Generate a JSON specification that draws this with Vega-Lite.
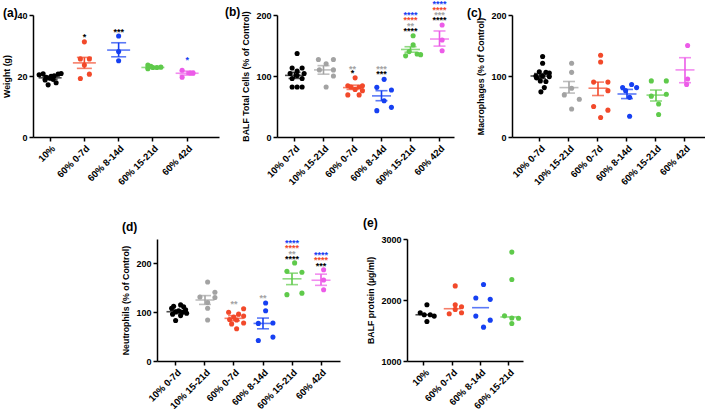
{
  "$schema": "https://vega.github.io/schema/vega-lite/v6.json",
  "padding": {"left": 2, "top": 0, "right": 0, "bottom": 0},
  "background": "white",
  "config": {
    "view": {"stroke": null},
    "font": "Liberation Sans",
    "axis": {"domainColor": "#000", "domainWidth": 1.5, "tickColor": "#000", "tickWidth": 1.5, "tickSize": 4, "labelColor": "#000", "labelFont": "Liberation Sans", "labelFontWeight": "bold", "labelFontSize": 9, "labelPadding": 2, "titleFont": "Liberation Sans", "titleFontWeight": "bold", "titleFontSize": 8.8, "titleColor": "#000", "titlePadding": 5, "grid": false},
    "axisX": {"labelAngle": -45, "labelFontSize": 9.5, "labelPadding": 2},
    "title": {"font": "Liberation Sans", "fontSize": 12, "fontWeight": "bold", "color": "#000", "anchor": "start", "frame": "bounds", "offset": 2}
  },
  "datasets": {
    "a": [
      {"g": "10%", "j": -11, "v": 20.4}, {"g": "10%", "j": -7, "v": 20.7}, {"g": "10%", "j": -4, "v": 19.6}, {"g": "10%", "j": 0, "v": 19.3}, {"g": "10%", "j": 4, "v": 20.1}, {"g": "10%", "j": 8, "v": 20.6}, {"g": "10%", "j": 11, "v": 20.8}, {"g": "10%", "j": -5, "v": 18.7}, {"g": "10%", "j": 3, "v": 18.9}, {"g": "10%", "j": -2, "v": 17.1}, {"g": "10%", "j": 6, "v": 17.8}, {"g": "10%", "j": 1, "v": 19.9},
      {"g": "60% 0-7d", "j": 0, "v": 31.2}, {"g": "60% 0-7d", "j": -4, "v": 25.6}, {"g": "60% 0-7d", "j": 5, "v": 25.6}, {"g": "60% 0-7d", "j": 0, "v": 23.6}, {"g": "60% 0-7d", "j": -4, "v": 19.2}, {"g": "60% 0-7d", "j": 5, "v": 20.6},
      {"g": "60% 8-14d", "j": 0, "v": 33.1}, {"g": "60% 8-14d", "j": 0, "v": 28.0}, {"g": "60% 8-14d", "j": 0, "v": 25.0},
      {"g": "60% 15-21d", "j": -5, "v": 23.6}, {"g": "60% 15-21d", "j": -5, "v": 22.4}, {"g": "60% 15-21d", "j": 0, "v": 22.8}, {"g": "60% 15-21d", "j": 4, "v": 22.8}, {"g": "60% 15-21d", "j": 8, "v": 22.9}, {"g": "60% 15-21d", "j": -2, "v": 23.2},
      {"g": "60% 42d", "j": -5, "v": 21.9}, {"g": "60% 42d", "j": -5, "v": 19.6}, {"g": "60% 42d", "j": 3, "v": 21.0}, {"g": "60% 42d", "j": 6, "v": 21.0}
    ],
    "a_s": [
      {"g": "10%", "m": 19.4, "lo": 18.9, "hi": 19.9},
      {"g": "60% 0-7d", "m": 24.3, "lo": 22.5, "hi": 26.1},
      {"g": "60% 8-14d", "m": 28.5, "lo": 26.3, "hi": 30.9},
      {"g": "60% 15-21d", "m": 22.8, "lo": 22.5, "hi": 23.1},
      {"g": "60% 42d", "m": 20.9, "lo": 20.3, "hi": 21.6}
    ],
    "a_t": [
      {"g": "60% 0-7d", "vs": "10%", "y": 33.6, "s": "*"},
      {"g": "60% 8-14d", "vs": "10%", "y": 35.1, "s": "***"},
      {"g": "60% 42d", "vs": "60% 8-14d", "y": 25.8, "s": "*"}
    ],
    "b": [
      {"g": "10% 0-7d", "j": 0, "v": 137}, {"g": "10% 0-7d", "j": -5, "v": 113}, {"g": "10% 0-7d", "j": 5, "v": 113}, {"g": "10% 0-7d", "j": -7, "v": 104}, {"g": "10% 0-7d", "j": 7, "v": 104}, {"g": "10% 0-7d", "j": 0, "v": 108}, {"g": "10% 0-7d", "j": -5, "v": 96}, {"g": "10% 0-7d", "j": 5, "v": 96}, {"g": "10% 0-7d", "j": 0, "v": 101}, {"g": "10% 0-7d", "j": -5, "v": 82}, {"g": "10% 0-7d", "j": 5, "v": 82}, {"g": "10% 0-7d", "j": 0, "v": 82},
      {"g": "10% 15-21d", "j": -7.7, "v": 127}, {"g": "10% 15-21d", "j": 7.3, "v": 127}, {"g": "10% 15-21d", "j": 0, "v": 120}, {"g": "10% 15-21d", "j": -6.7, "v": 110}, {"g": "10% 15-21d", "j": 7.3, "v": 110}, {"g": "10% 15-21d", "j": 7.3, "v": 100}, {"g": "10% 15-21d", "j": 0, "v": 82},
      {"g": "60% 0-7d", "j": 0, "v": 97}, {"g": "60% 0-7d", "j": -7.3, "v": 84}, {"g": "60% 0-7d", "j": 7.3, "v": 84}, {"g": "60% 0-7d", "j": -4.3, "v": 82}, {"g": "60% 0-7d", "j": 4, "v": 82}, {"g": "60% 0-7d", "j": 0, "v": 78}, {"g": "60% 0-7d", "j": -7.3, "v": 69}, {"g": "60% 0-7d", "j": 4, "v": 69}, {"g": "60% 0-7d", "j": 7.3, "v": 76},
      {"g": "60% 8-14d", "j": 0, "v": 94.5}, {"g": "60% 8-14d", "j": -7.3, "v": 81.4}, {"g": "60% 8-14d", "j": 7.3, "v": 77}, {"g": "60% 8-14d", "j": 0, "v": 59.5}, {"g": "60% 8-14d", "j": -7.3, "v": 43.2}, {"g": "60% 8-14d", "j": 7.3, "v": 48.6},
      {"g": "60% 15-21d", "j": 0, "v": 166}, {"g": "60% 15-21d", "j": 0, "v": 151}, {"g": "60% 15-21d", "j": -4, "v": 140}, {"g": "60% 15-21d", "j": 4, "v": 136}, {"g": "60% 15-21d", "j": -7.5, "v": 133}, {"g": "60% 15-21d", "j": 7.5, "v": 135},
      {"g": "60% 42d", "j": 0, "v": 183.6}, {"g": "60% 42d", "j": 0, "v": 159}, {"g": "60% 42d", "j": 0, "v": 141.5}
    ],
    "b_s": [
      {"g": "10% 0-7d", "m": 101, "lo": 96, "hi": 106},
      {"g": "10% 15-21d", "m": 110, "lo": 103, "hi": 117},
      {"g": "60% 0-7d", "m": 81, "lo": 78, "hi": 85},
      {"g": "60% 8-14d", "m": 67.4, "lo": 59.5, "hi": 75.9},
      {"g": "60% 15-21d", "m": 143.5, "lo": 139, "hi": 148},
      {"g": "60% 42d", "m": 160.6, "lo": 149, "hi": 173.8}
    ],
    "b_t": [
      {"g": "60% 0-7d", "vs": "10% 0-7d", "y": 108, "s": "*"},
      {"g": "60% 0-7d", "vs": "10% 15-21d", "y": 115, "s": "**"},
      {"g": "60% 8-14d", "vs": "10% 0-7d", "y": 106, "s": "***"},
      {"g": "60% 8-14d", "vs": "10% 15-21d", "y": 114, "s": "***"},
      {"g": "60% 15-21d", "vs": "10% 0-7d", "y": 177, "s": "****"},
      {"g": "60% 15-21d", "vs": "10% 15-21d", "y": 186, "s": "**"},
      {"g": "60% 15-21d", "vs": "60% 0-7d", "y": 194.5, "s": "****"},
      {"g": "60% 15-21d", "vs": "60% 8-14d", "y": 204, "s": "****"},
      {"g": "60% 42d", "vs": "10% 0-7d", "y": 194.5, "s": "****"},
      {"g": "60% 42d", "vs": "10% 15-21d", "y": 203, "s": "***"},
      {"g": "60% 42d", "vs": "60% 0-7d", "y": 212, "s": "****"},
      {"g": "60% 42d", "vs": "60% 8-14d", "y": 221, "s": "****"}
    ],
    "c": [
      {"g": "10% 0-7d", "j": 0, "v": 132}, {"g": "10% 0-7d", "j": 0, "v": 121}, {"g": "10% 0-7d", "j": -3.3, "v": 107}, {"g": "10% 0-7d", "j": 3.3, "v": 106}, {"g": "10% 0-7d", "j": 6.7, "v": 105}, {"g": "10% 0-7d", "j": -6.7, "v": 100}, {"g": "10% 0-7d", "j": 0, "v": 100}, {"g": "10% 0-7d", "j": 6.7, "v": 99}, {"g": "10% 0-7d", "j": -6, "v": 97}, {"g": "10% 0-7d", "j": -2.3, "v": 92}, {"g": "10% 0-7d", "j": 3.3, "v": 91}, {"g": "10% 0-7d", "j": 1.7, "v": 81}, {"g": "10% 0-7d", "j": -1.7, "v": 74},
      {"g": "10% 15-21d", "j": 0, "v": 121}, {"g": "10% 15-21d", "j": 0, "v": 106}, {"g": "10% 15-21d", "j": 0, "v": 80}, {"g": "10% 15-21d", "j": -7.3, "v": 69}, {"g": "10% 15-21d", "j": 7.7, "v": 62}, {"g": "10% 15-21d", "j": 0, "v": 46},
      {"g": "60% 0-7d", "j": 0, "v": 134}, {"g": "60% 0-7d", "j": 0, "v": 123}, {"g": "60% 0-7d", "j": -7, "v": 90}, {"g": "60% 0-7d", "j": 7.3, "v": 90}, {"g": "60% 0-7d", "j": 7.3, "v": 76}, {"g": "60% 0-7d", "j": -7, "v": 50}, {"g": "60% 0-7d", "j": 7.3, "v": 44}, {"g": "60% 0-7d", "j": 0, "v": 32},
      {"g": "60% 8-14d", "j": 2, "v": 86}, {"g": "60% 8-14d", "j": -7, "v": 81}, {"g": "60% 8-14d", "j": 7, "v": 81}, {"g": "60% 8-14d", "j": -4, "v": 76}, {"g": "60% 8-14d", "j": 0, "v": 65}, {"g": "60% 8-14d", "j": 0, "v": 34},
      {"g": "60% 15-21d", "j": -7.3, "v": 92}, {"g": "60% 15-21d", "j": 7.7, "v": 92}, {"g": "60% 15-21d", "j": -7.3, "v": 67}, {"g": "60% 15-21d", "j": 7.7, "v": 70}, {"g": "60% 15-21d", "j": 0, "v": 54}, {"g": "60% 15-21d", "j": 0, "v": 37},
      {"g": "60% 42d", "j": 0, "v": 150}, {"g": "60% 42d", "j": 0, "v": 95}, {"g": "60% 42d", "j": -1, "v": 86}
    ],
    "c_s": [
      {"g": "10% 0-7d", "m": 100, "lo": 96, "hi": 104},
      {"g": "10% 15-21d", "m": 81, "lo": 72, "hi": 91},
      {"g": "60% 0-7d", "m": 80, "lo": 68, "hi": 90},
      {"g": "60% 8-14d", "m": 70.5, "lo": 63, "hi": 78},
      {"g": "60% 15-21d", "m": 68.7, "lo": 59, "hi": 77},
      {"g": "60% 42d", "m": 110, "lo": 89, "hi": 130}
    ],
    "d": [
      {"g": "10% 0-7d", "j": 2, "v": 115}, {"g": "10% 0-7d", "j": -5, "v": 112}, {"g": "10% 0-7d", "j": 5, "v": 111}, {"g": "10% 0-7d", "j": -7, "v": 108}, {"g": "10% 0-7d", "j": 7, "v": 105}, {"g": "10% 0-7d", "j": 0, "v": 103}, {"g": "10% 0-7d", "j": -3, "v": 101}, {"g": "10% 0-7d", "j": 4, "v": 100}, {"g": "10% 0-7d", "j": 8, "v": 98}, {"g": "10% 0-7d", "j": -6, "v": 96}, {"g": "10% 0-7d", "j": 2, "v": 93}, {"g": "10% 0-7d", "j": -3, "v": 83},
      {"g": "10% 15-21d", "j": 0, "v": 162}, {"g": "10% 15-21d", "j": 7.3, "v": 141}, {"g": "10% 15-21d", "j": -7.7, "v": 131}, {"g": "10% 15-21d", "j": 7.3, "v": 130}, {"g": "10% 15-21d", "j": 0, "v": 120}, {"g": "10% 15-21d", "j": 0, "v": 108}, {"g": "10% 15-21d", "j": 0, "v": 84},
      {"g": "60% 0-7d", "j": 7, "v": 107}, {"g": "60% 0-7d", "j": -8, "v": 100}, {"g": "60% 0-7d", "j": 2, "v": 96}, {"g": "60% 0-7d", "j": 7, "v": 92}, {"g": "60% 0-7d", "j": -3, "v": 90}, {"g": "60% 0-7d", "j": -7, "v": 85}, {"g": "60% 0-7d", "j": 0, "v": 84}, {"g": "60% 0-7d", "j": 7, "v": 78}, {"g": "60% 0-7d", "j": -5, "v": 76}, {"g": "60% 0-7d", "j": 0, "v": 66},
      {"g": "60% 8-14d", "j": 0, "v": 119}, {"g": "60% 8-14d", "j": 0, "v": 103}, {"g": "60% 8-14d", "j": -7.3, "v": 77}, {"g": "60% 8-14d", "j": 7.3, "v": 78}, {"g": "60% 8-14d", "j": 7.3, "v": 49}, {"g": "60% 8-14d", "j": -7.3, "v": 42},
      {"g": "60% 15-21d", "j": 0, "v": 201}, {"g": "60% 15-21d", "j": -7.7, "v": 184}, {"g": "60% 15-21d", "j": 7.3, "v": 182}, {"g": "60% 15-21d", "j": 7.3, "v": 139}, {"g": "60% 15-21d", "j": -7.7, "v": 136},
      {"g": "60% 42d", "j": 0, "v": 187}, {"g": "60% 42d", "j": 0, "v": 166}, {"g": "60% 42d", "j": 0, "v": 146}
    ],
    "d_s": [
      {"g": "10% 0-7d", "m": 101, "lo": 97, "hi": 104},
      {"g": "10% 15-21d", "m": 125, "lo": 116, "hi": 134},
      {"g": "60% 0-7d", "m": 87.4, "lo": 82.6, "hi": 92.9},
      {"g": "60% 8-14d", "m": 77, "lo": 66, "hi": 88},
      {"g": "60% 15-21d", "m": 168.4, "lo": 156.5, "hi": 180},
      {"g": "60% 42d", "m": 165.5, "lo": 155, "hi": 178}
    ],
    "d_t": [
      {"g": "60% 0-7d", "vs": "10% 15-21d", "y": 121, "s": "**"},
      {"g": "60% 8-14d", "vs": "10% 15-21d", "y": 132.5, "s": "**"},
      {"g": "60% 15-21d", "vs": "10% 0-7d", "y": 213, "s": "****"},
      {"g": "60% 15-21d", "vs": "10% 15-21d", "y": 223, "s": "**"},
      {"g": "60% 15-21d", "vs": "60% 0-7d", "y": 235, "s": "****"},
      {"g": "60% 15-21d", "vs": "60% 8-14d", "y": 246.5, "s": "****"},
      {"g": "60% 42d", "vs": "10% 0-7d", "y": 199, "s": "***"},
      {"g": "60% 42d", "vs": "60% 0-7d", "y": 211, "s": "****"},
      {"g": "60% 42d", "vs": "60% 8-14d", "y": 221, "s": "****"}
    ],
    "e": [
      {"g": "10%", "j": 0, "v": 1923}, {"g": "10%", "j": -6.7, "v": 1791}, {"g": "10%", "j": -2.7, "v": 1758}, {"g": "10%", "j": 3.3, "v": 1758}, {"g": "10%", "j": 7.3, "v": 1736}, {"g": "10%", "j": 0, "v": 1648},
      {"g": "60% 0-7d", "j": 0, "v": 2231}, {"g": "60% 0-7d", "j": 0, "v": 1923}, {"g": "60% 0-7d", "j": -6, "v": 1775}, {"g": "60% 0-7d", "j": 6.3, "v": 1890}, {"g": "60% 0-7d", "j": 0, "v": 1846}, {"g": "60% 0-7d", "j": 6.3, "v": 1791},
      {"g": "60% 8-14d", "j": 0, "v": 2253}, {"g": "60% 8-14d", "j": -7.7, "v": 2033}, {"g": "60% 8-14d", "j": 6.7, "v": 2011}, {"g": "60% 8-14d", "j": -7.7, "v": 1736}, {"g": "60% 8-14d", "j": 6.7, "v": 1670}, {"g": "60% 8-14d", "j": 0, "v": 1555},
      {"g": "60% 15-21d", "j": 0, "v": 2785}, {"g": "60% 15-21d", "j": 0, "v": 2335}, {"g": "60% 15-21d", "j": -7.3, "v": 1740}, {"g": "60% 15-21d", "j": 0, "v": 1705}, {"g": "60% 15-21d", "j": 6.7, "v": 1700}, {"g": "60% 15-21d", "j": 0, "v": 1615}
    ],
    "e_s": [
      {"g": "10%", "m": 1758},
      {"g": "60% 0-7d", "m": 1857},
      {"g": "60% 8-14d", "m": 1874},
      {"g": "60% 15-21d", "m": 1722}
    ]
  },
  "vconcat": [
    {
      "hconcat": [
        {
          "title": {"text": "(a)", "dy": 11},
          "width": 186, "height": 122,
          "encoding": {"x": {"field": "g", "type": "nominal", "title": null, "scale": {"domain": ["10%", "60% 0-7d", "60% 8-14d", "60% 15-21d", "60% 42d"], "paddingInner": 0, "paddingOuter": 0.2153, "align": 0}}},
          "layer": [
            {"data": {"name": "a"}, "mark": {"type": "circle", "size": 26, "opacity": 1}, "encoding": {"y": {"field": "v", "type": "quantitative", "title": "Weight (g)", "scale": {"domain": [0, 40], "nice": false}, "axis": {"values": [0, 10, 20, 30, 40]}}, "xOffset": {"field": "j", "type": "quantitative", "scale": {"domain": [-17.12, 17.12], "nice": false, "zero": false}}, "color": {"field": "g", "type": "nominal", "legend": null, "scale": {"domain": ["10%", "10% 0-7d", "10% 15-21d", "60% 0-7d", "60% 8-14d", "60% 15-21d", "60% 42d"], "range": ["#000000", "#000000", "#a3a3a3", "#f2492a", "#1640f2", "#5fca4b", "#ec5be8"]}}}},
            {"data": {"name": "a_s"}, "mark": {"type": "tick", "thickness": 1.6, "size": 23}, "encoding": {"y": {"field": "m", "type": "quantitative", "title": "Weight (g)", "scale": {"domain": [0, 40], "nice": false}}, "color": {"field": "g", "type": "nominal", "legend": null, "scale": {"domain": ["10%", "10% 0-7d", "10% 15-21d", "60% 0-7d", "60% 8-14d", "60% 15-21d", "60% 42d"], "range": ["#000000", "#000000", "#a3a3a3", "#f2492a", "#1640f2", "#5fca4b", "#ec5be8"]}}}},
            {"data": {"name": "a_s"}, "mark": {"type": "tick", "thickness": 1.6, "size": 15}, "encoding": {"y": {"field": "lo", "type": "quantitative", "title": "Weight (g)", "scale": {"domain": [0, 40], "nice": false}}, "color": {"field": "g", "type": "nominal", "legend": null, "scale": {"domain": ["10%", "10% 0-7d", "10% 15-21d", "60% 0-7d", "60% 8-14d", "60% 15-21d", "60% 42d"], "range": ["#000000", "#000000", "#a3a3a3", "#f2492a", "#1640f2", "#5fca4b", "#ec5be8"]}}}},
            {"data": {"name": "a_s"}, "mark": {"type": "tick", "thickness": 1.6, "size": 15}, "encoding": {"y": {"field": "hi", "type": "quantitative", "title": "Weight (g)", "scale": {"domain": [0, 40], "nice": false}}, "color": {"field": "g", "type": "nominal", "legend": null, "scale": {"domain": ["10%", "10% 0-7d", "10% 15-21d", "60% 0-7d", "60% 8-14d", "60% 15-21d", "60% 42d"], "range": ["#000000", "#000000", "#a3a3a3", "#f2492a", "#1640f2", "#5fca4b", "#ec5be8"]}}}},
            {"data": {"name": "a_s"}, "mark": {"type": "rule", "strokeWidth": 1.6}, "encoding": {"y": {"field": "lo", "type": "quantitative", "title": "Weight (g)", "scale": {"domain": [0, 40], "nice": false}}, "y2": {"field": "hi"}, "color": {"field": "g", "type": "nominal", "legend": null, "scale": {"domain": ["10%", "10% 0-7d", "10% 15-21d", "60% 0-7d", "60% 8-14d", "60% 15-21d", "60% 42d"], "range": ["#000000", "#000000", "#a3a3a3", "#f2492a", "#1640f2", "#5fca4b", "#ec5be8"]}}}},
            {"data": {"name": "a_t"}, "mark": {"type": "text", "fontSize": 9, "fontWeight": "bold", "baseline": "middle", "dy": 2}, "encoding": {"y": {"field": "y", "type": "quantitative", "title": "Weight (g)", "scale": {"domain": [0, 40], "nice": false}}, "text": {"field": "s"}, "color": {"field": "vs", "type": "nominal", "legend": null, "scale": {"domain": ["10%", "10% 0-7d", "10% 15-21d", "60% 0-7d", "60% 8-14d", "60% 15-21d", "60% 42d"], "range": ["#000000", "#000000", "#a3a3a3", "#f2492a", "#1640f2", "#5fca4b", "#ec5be8"]}}}}
          ]
        },
        {
          "title": {"text": "(b)", "dx": -17, "dy": 21},
          "width": 177, "height": 122,
          "encoding": {"x": {"field": "g", "type": "nominal", "title": null, "scale": {"domain": ["10% 0-7d", "10% 15-21d", "60% 0-7d", "60% 8-14d", "60% 15-21d", "60% 42d"], "paddingInner": 0, "paddingOuter": 0.0517, "align": 1}}},
          "layer": [
            {"data": {"name": "b"}, "mark": {"type": "circle", "size": 26, "opacity": 1}, "encoding": {"y": {"field": "v", "type": "quantitative", "title": "BALF Total Cells (% of Control)", "scale": {"domain": [0, 200], "nice": false}, "axis": {"values": [0, 50, 100, 150, 200]}}, "xOffset": {"field": "j", "type": "quantitative", "scale": {"domain": [-14.5, 14.5], "nice": false, "zero": false}}, "color": {"field": "g", "type": "nominal", "legend": null, "scale": {"domain": ["10%", "10% 0-7d", "10% 15-21d", "60% 0-7d", "60% 8-14d", "60% 15-21d", "60% 42d"], "range": ["#000000", "#000000", "#a3a3a3", "#f2492a", "#1640f2", "#5fca4b", "#ec5be8"]}}}},
            {"data": {"name": "b_s"}, "mark": {"type": "tick", "thickness": 1.6, "size": 19}, "encoding": {"y": {"field": "m", "type": "quantitative", "title": "BALF Total Cells (% of Control)", "scale": {"domain": [0, 200], "nice": false}}, "color": {"field": "g", "type": "nominal", "legend": null, "scale": {"domain": ["10%", "10% 0-7d", "10% 15-21d", "60% 0-7d", "60% 8-14d", "60% 15-21d", "60% 42d"], "range": ["#000000", "#000000", "#a3a3a3", "#f2492a", "#1640f2", "#5fca4b", "#ec5be8"]}}}},
            {"data": {"name": "b_s"}, "mark": {"type": "tick", "thickness": 1.6, "size": 12}, "encoding": {"y": {"field": "lo", "type": "quantitative", "title": "BALF Total Cells (% of Control)", "scale": {"domain": [0, 200], "nice": false}}, "color": {"field": "g", "type": "nominal", "legend": null, "scale": {"domain": ["10%", "10% 0-7d", "10% 15-21d", "60% 0-7d", "60% 8-14d", "60% 15-21d", "60% 42d"], "range": ["#000000", "#000000", "#a3a3a3", "#f2492a", "#1640f2", "#5fca4b", "#ec5be8"]}}}},
            {"data": {"name": "b_s"}, "mark": {"type": "tick", "thickness": 1.6, "size": 12}, "encoding": {"y": {"field": "hi", "type": "quantitative", "title": "BALF Total Cells (% of Control)", "scale": {"domain": [0, 200], "nice": false}}, "color": {"field": "g", "type": "nominal", "legend": null, "scale": {"domain": ["10%", "10% 0-7d", "10% 15-21d", "60% 0-7d", "60% 8-14d", "60% 15-21d", "60% 42d"], "range": ["#000000", "#000000", "#a3a3a3", "#f2492a", "#1640f2", "#5fca4b", "#ec5be8"]}}}},
            {"data": {"name": "b_s"}, "mark": {"type": "rule", "strokeWidth": 1.6}, "encoding": {"y": {"field": "lo", "type": "quantitative", "title": "BALF Total Cells (% of Control)", "scale": {"domain": [0, 200], "nice": false}}, "y2": {"field": "hi"}, "color": {"field": "g", "type": "nominal", "legend": null, "scale": {"domain": ["10%", "10% 0-7d", "10% 15-21d", "60% 0-7d", "60% 8-14d", "60% 15-21d", "60% 42d"], "range": ["#000000", "#000000", "#a3a3a3", "#f2492a", "#1640f2", "#5fca4b", "#ec5be8"]}}}},
            {"data": {"name": "b_t"}, "mark": {"type": "text", "fontSize": 9, "fontWeight": "bold", "baseline": "middle", "dy": 2}, "encoding": {"y": {"field": "y", "type": "quantitative", "title": "BALF Total Cells (% of Control)", "scale": {"domain": [0, 200], "nice": false}}, "text": {"field": "s"}, "color": {"field": "vs", "type": "nominal", "legend": null, "scale": {"domain": ["10%", "10% 0-7d", "10% 15-21d", "60% 0-7d", "60% 8-14d", "60% 15-21d", "60% 42d"], "range": ["#000000", "#000000", "#a3a3a3", "#f2492a", "#1640f2", "#5fca4b", "#ec5be8"]}}}}
          ]
        },
        {
          "title": {"text": "(c)", "dx": -10, "dy": 11},
          "width": 193, "height": 122,
          "encoding": {"x": {"field": "g", "type": "nominal", "title": null, "scale": {"domain": ["10% 0-7d", "10% 15-21d", "60% 0-7d", "60% 8-14d", "60% 15-21d", "60% 42d"], "paddingInner": 0, "paddingOuter": 0.3276, "align": 0.71}}},
          "layer": [
            {"data": {"name": "c"}, "mark": {"type": "circle", "size": 26, "opacity": 1}, "encoding": {"y": {"field": "v", "type": "quantitative", "title": "Macrophages (% of Control)", "scale": {"domain": [0, 200], "nice": false}, "axis": {"values": [0, 50, 100, 150, 200]}}, "xOffset": {"field": "j", "type": "quantitative", "scale": {"domain": [-14.5, 14.5], "nice": false, "zero": false}}, "color": {"field": "g", "type": "nominal", "legend": null, "scale": {"domain": ["10%", "10% 0-7d", "10% 15-21d", "60% 0-7d", "60% 8-14d", "60% 15-21d", "60% 42d"], "range": ["#000000", "#000000", "#a3a3a3", "#f2492a", "#1640f2", "#5fca4b", "#ec5be8"]}}}},
            {"data": {"name": "c_s"}, "mark": {"type": "tick", "thickness": 1.6, "size": 19}, "encoding": {"y": {"field": "m", "type": "quantitative", "title": "Macrophages (% of Control)", "scale": {"domain": [0, 200], "nice": false}}, "color": {"field": "g", "type": "nominal", "legend": null, "scale": {"domain": ["10%", "10% 0-7d", "10% 15-21d", "60% 0-7d", "60% 8-14d", "60% 15-21d", "60% 42d"], "range": ["#000000", "#000000", "#a3a3a3", "#f2492a", "#1640f2", "#5fca4b", "#ec5be8"]}}}},
            {"data": {"name": "c_s"}, "mark": {"type": "tick", "thickness": 1.6, "size": 12}, "encoding": {"y": {"field": "lo", "type": "quantitative", "title": "Macrophages (% of Control)", "scale": {"domain": [0, 200], "nice": false}}, "color": {"field": "g", "type": "nominal", "legend": null, "scale": {"domain": ["10%", "10% 0-7d", "10% 15-21d", "60% 0-7d", "60% 8-14d", "60% 15-21d", "60% 42d"], "range": ["#000000", "#000000", "#a3a3a3", "#f2492a", "#1640f2", "#5fca4b", "#ec5be8"]}}}},
            {"data": {"name": "c_s"}, "mark": {"type": "tick", "thickness": 1.6, "size": 12}, "encoding": {"y": {"field": "hi", "type": "quantitative", "title": "Macrophages (% of Control)", "scale": {"domain": [0, 200], "nice": false}}, "color": {"field": "g", "type": "nominal", "legend": null, "scale": {"domain": ["10%", "10% 0-7d", "10% 15-21d", "60% 0-7d", "60% 8-14d", "60% 15-21d", "60% 42d"], "range": ["#000000", "#000000", "#a3a3a3", "#f2492a", "#1640f2", "#5fca4b", "#ec5be8"]}}}},
            {"data": {"name": "c_s"}, "mark": {"type": "rule", "strokeWidth": 1.6}, "encoding": {"y": {"field": "lo", "type": "quantitative", "title": "Macrophages (% of Control)", "scale": {"domain": [0, 200], "nice": false}}, "y2": {"field": "hi"}, "color": {"field": "g", "type": "nominal", "legend": null, "scale": {"domain": ["10%", "10% 0-7d", "10% 15-21d", "60% 0-7d", "60% 8-14d", "60% 15-21d", "60% 42d"], "range": ["#000000", "#000000", "#a3a3a3", "#f2492a", "#1640f2", "#5fca4b", "#ec5be8"]}}}}
          ]
        }
      ],
      "spacing": 58,
      "bounds": "flush"
    },
    {
      "hconcat": [
        {"width": 57, "height": 122, "data": {"values": []}, "mark": {"type": "point", "opacity": 0}},
        {
          "title": {"text": "(d)", "dy": -3},
          "width": 183, "height": 122,
          "encoding": {"x": {"field": "g", "type": "nominal", "title": null, "scale": {"domain": ["10% 0-7d", "10% 15-21d", "60% 0-7d", "60% 8-14d", "60% 15-21d", "60% 42d"], "paddingInner": 0, "paddingOuter": 0.155, "align": 0.5}}},
          "layer": [
            {"data": {"name": "d"}, "mark": {"type": "circle", "size": 26, "opacity": 1}, "encoding": {"y": {"field": "v", "type": "quantitative", "title": "Neutrophils (% of Control)", "scale": {"domain": [0, 250], "nice": false}, "axis": {"values": [0, 50, 100, 150, 200, 250]}}, "xOffset": {"field": "j", "type": "quantitative", "scale": {"domain": [-14.5, 14.5], "nice": false, "zero": false}}, "color": {"field": "g", "type": "nominal", "legend": null, "scale": {"domain": ["10%", "10% 0-7d", "10% 15-21d", "60% 0-7d", "60% 8-14d", "60% 15-21d", "60% 42d"], "range": ["#000000", "#000000", "#a3a3a3", "#f2492a", "#1640f2", "#5fca4b", "#ec5be8"]}}}},
            {"data": {"name": "d_s"}, "mark": {"type": "tick", "thickness": 1.6, "size": 19}, "encoding": {"y": {"field": "m", "type": "quantitative", "title": "Neutrophils (% of Control)", "scale": {"domain": [0, 250], "nice": false}}, "color": {"field": "g", "type": "nominal", "legend": null, "scale": {"domain": ["10%", "10% 0-7d", "10% 15-21d", "60% 0-7d", "60% 8-14d", "60% 15-21d", "60% 42d"], "range": ["#000000", "#000000", "#a3a3a3", "#f2492a", "#1640f2", "#5fca4b", "#ec5be8"]}}}},
            {"data": {"name": "d_s"}, "mark": {"type": "tick", "thickness": 1.6, "size": 12}, "encoding": {"y": {"field": "lo", "type": "quantitative", "title": "Neutrophils (% of Control)", "scale": {"domain": [0, 250], "nice": false}}, "color": {"field": "g", "type": "nominal", "legend": null, "scale": {"domain": ["10%", "10% 0-7d", "10% 15-21d", "60% 0-7d", "60% 8-14d", "60% 15-21d", "60% 42d"], "range": ["#000000", "#000000", "#a3a3a3", "#f2492a", "#1640f2", "#5fca4b", "#ec5be8"]}}}},
            {"data": {"name": "d_s"}, "mark": {"type": "tick", "thickness": 1.6, "size": 12}, "encoding": {"y": {"field": "hi", "type": "quantitative", "title": "Neutrophils (% of Control)", "scale": {"domain": [0, 250], "nice": false}}, "color": {"field": "g", "type": "nominal", "legend": null, "scale": {"domain": ["10%", "10% 0-7d", "10% 15-21d", "60% 0-7d", "60% 8-14d", "60% 15-21d", "60% 42d"], "range": ["#000000", "#000000", "#a3a3a3", "#f2492a", "#1640f2", "#5fca4b", "#ec5be8"]}}}},
            {"data": {"name": "d_s"}, "mark": {"type": "rule", "strokeWidth": 1.6}, "encoding": {"y": {"field": "lo", "type": "quantitative", "title": "Neutrophils (% of Control)", "scale": {"domain": [0, 250], "nice": false}}, "y2": {"field": "hi"}, "color": {"field": "g", "type": "nominal", "legend": null, "scale": {"domain": ["10%", "10% 0-7d", "10% 15-21d", "60% 0-7d", "60% 8-14d", "60% 15-21d", "60% 42d"], "range": ["#000000", "#000000", "#a3a3a3", "#f2492a", "#1640f2", "#5fca4b", "#ec5be8"]}}}},
            {"data": {"name": "d_t"}, "mark": {"type": "text", "fontSize": 9, "fontWeight": "bold", "baseline": "middle", "dy": 2}, "encoding": {"y": {"field": "y", "type": "quantitative", "title": "Neutrophils (% of Control)", "scale": {"domain": [0, 250], "nice": false}}, "text": {"field": "s"}, "color": {"field": "vs", "type": "nominal", "legend": null, "scale": {"domain": ["10%", "10% 0-7d", "10% 15-21d", "60% 0-7d", "60% 8-14d", "60% 15-21d", "60% 42d"], "range": ["#000000", "#000000", "#a3a3a3", "#f2492a", "#1640f2", "#5fca4b", "#ec5be8"]}}}}
          ]
        },
        {
          "title": {"text": "(e)", "dx": -4, "dy": -3},
          "width": 116, "height": 122,
          "encoding": {"x": {"field": "g", "type": "nominal", "title": null, "scale": {"domain": ["10%", "60% 0-7d", "60% 8-14d", "60% 15-21d"], "paddingInner": 0, "paddingOuter": 0.0495, "align": 1}}},
          "layer": [
            {"data": {"name": "e"}, "mark": {"type": "circle", "size": 26, "opacity": 1}, "encoding": {"y": {"field": "v", "type": "quantitative", "title": "BALF protein (µg/ml)", "scale": {"domain": [1000, 3000], "nice": false, "zero": false}, "axis": {"values": [1000, 1500, 2000, 2500, 3000], "format": "d"}}, "xOffset": {"field": "j", "type": "quantitative", "scale": {"domain": [-14.15, 14.15], "nice": false, "zero": false}}, "color": {"field": "g", "type": "nominal", "legend": null, "scale": {"domain": ["10%", "10% 0-7d", "10% 15-21d", "60% 0-7d", "60% 8-14d", "60% 15-21d", "60% 42d"], "range": ["#000000", "#000000", "#a3a3a3", "#f2492a", "#1640f2", "#5fca4b", "#ec5be8"]}}}},
            {"data": {"name": "e_s"}, "mark": {"type": "tick", "thickness": 1.6, "size": 17}, "encoding": {"y": {"field": "m", "type": "quantitative", "title": "BALF protein (µg/ml)", "scale": {"domain": [1000, 3000], "nice": false, "zero": false}}, "color": {"field": "g", "type": "nominal", "legend": null, "scale": {"domain": ["10%", "10% 0-7d", "10% 15-21d", "60% 0-7d", "60% 8-14d", "60% 15-21d", "60% 42d"], "range": ["#000000", "#000000", "#a3a3a3", "#f2492a", "#1640f2", "#5fca4b", "#ec5be8"]}}}}
          ]
        }
      ],
      "spacing": 67,
      "bounds": "flush"
    }
  ],
  "spacing": 30
}
